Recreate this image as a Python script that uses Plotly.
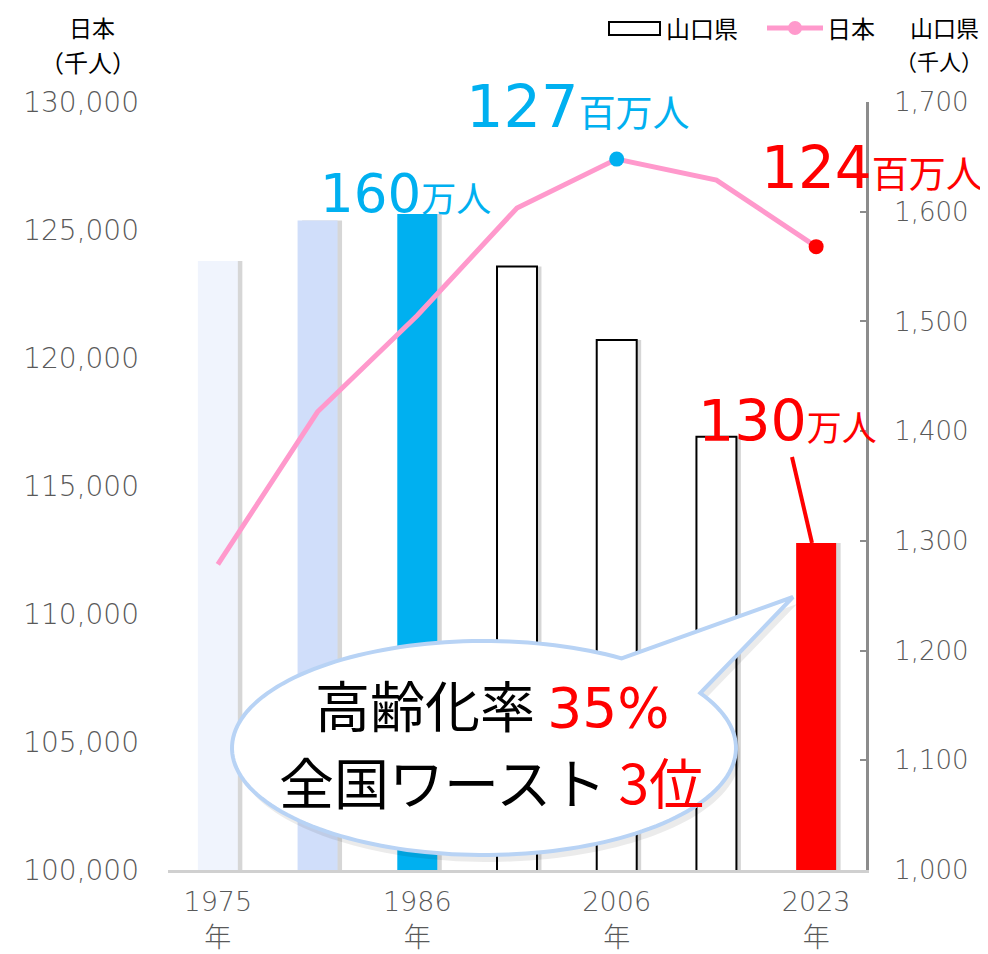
import numpy as np
import plotly.graph_objects as go

# ---------------- data ----------------
years = ["1975", "1981", "1986", "1996", "2006", "2016", "2023"]
year_ticktext = ["1975<br>年", "", "1986<br>年", "", "2006<br>年", "", "2023<br>年"]
yamaguchi = [1555, 1592, 1598, 1550, 1483, 1395, 1298]          # 千人
japan = [111940, 117900, 121660, 125860, 127770, 126950, 124350]  # 千人
left_ticks = [100000, 105000, 110000, 115000, 120000, 125000, 130000]
right_ticks = [1000, 1100, 1200, 1300, 1400, 1500, 1600, 1700]

# ---------------- styles ----------------
bar_colors = ["#F0F4FD", "#D0DEFA", "#00B0F0", "#FFFFFF", "#FFFFFF", "#FFFFFF", "#FF0000"]
bar_line_colors = ["#F0F4FD", "#D0DEFA", "#00B0F0", "#000000", "#000000", "#000000", "#FF0000"]
bar_line_widths = [0, 0, 0, 2, 2, 2, 0]
marker_sizes = [0, 0, 0, 0, 15, 0, 15]
marker_colors = ["#FF99CC", "#FF99CC", "#FF99CC", "#FF99CC", "#00B0F0", "#FF99CC", "#FF0000"]

OFF = 8  # page body margin offset
W, H = 988 - OFF, 954 - OFF
L, R, T, B = 168 - OFF, 866 - OFF, 102 - OFF, 870 - OFF   # plot area in figure pixels
PW, PH = R - L, B - T


def px(x):  # x given in screenshot pixels
    return (x - OFF - L) / PW


def py(y):  # y given in screenshot pixels
    return (B - (y - OFF)) / PH


NUM = "DejaVu Sans, Noto Sans CJK JP"
CJK = "Noto Sans CJK JP, Noto Sans"
GRAY = "#595959"

fig = go.Figure()

BW = 0.401
# bar shadows
fig.add_trace(go.Bar(
    x=years, y=yamaguchi, yaxis="y", width=BW, offset=-BW / 2 + 0.045,
    marker=dict(color="rgba(0,0,0,0.16)", line=dict(width=0)),
    showlegend=False, hoverinfo="skip"))
# bars (山口県)
fig.add_trace(go.Bar(
    x=years, y=yamaguchi, yaxis="y", width=BW, offset=-BW / 2, name="山口県",
    marker=dict(color=bar_colors, line=dict(color=bar_line_colors, width=bar_line_widths)),
    showlegend=False))
# line (日本)
fig.add_trace(go.Scatter(
    x=years, y=japan, yaxis="y2", mode="lines+markers", name="日本",
    line=dict(color="#FF99CC", width=5),
    marker=dict(size=marker_sizes, color=marker_colors, line=dict(width=0), opacity=1),
    showlegend=False))

# ---------------- speech bubble ----------------
cx, cy, rx, ry = 484, 748, 252, 107
tip = (793, 597)
A = (616, 662)
Bp = (685, 697)
tA = np.arctan2((A[1] - cy) / ry, (A[0] - cx) / rx)
tB = np.arctan2((Bp[1] - cy) / ry, (Bp[0] - cx) / rx)
ts = np.linspace(tB, tA + 2 * np.pi, 160)


def bubble_path(dx=0, dy=0):
    pts = [(cx + rx * np.cos(t) + dx, cy + ry * np.sin(t) + dy) for t in ts]
    pts.append((tip[0] + dx, tip[1] + dy))
    s = "M " + " L ".join(f"{px(x):.5f},{py(y):.5f}" for x, y in pts) + " Z"
    return s


shapes = [
    dict(type="path", path=bubble_path(4, 7), xref="paper", yref="paper",
         fillcolor="rgba(0,0,0,0.08)", line=dict(width=0), layer="above"),
    dict(type="path", path=bubble_path(), xref="paper", yref="paper",
         fillcolor="white", line=dict(color="#B8D3F5", width=4), layer="above"),
    # connector for 130万人
    dict(type="line", xref="paper", yref="paper", x0=px(792), y0=py(457), x1=px(812), y1=py(543),
         line=dict(color="#FF0000", width=4), layer="above"),
    # manual legend
    dict(type="rect", xref="paper", yref="paper", x0=px(609), x1=px(660), y0=py(22), y1=py(35),
         line=dict(color="black", width=2), fillcolor="white", layer="above"),
    dict(type="line", xref="paper", yref="paper", x0=px(767), x1=px(823), y0=py(28), y1=py(28),
         line=dict(color="#FF99CC", width=5), layer="above"),
    dict(type="circle", xref="paper", yref="paper", x0=px(788), x1=px(802), y0=py(21), y1=py(35),
         line=dict(width=0), fillcolor="#FF99CC", layer="above"),
]

annotations = [
    dict(x=px(405), y=py(193), text='<span style="font-size:53px">160</span><span style="font-size:35px;font-family:Noto Sans CJK JP">万人</span>',
         font=dict(family=NUM, color="#00B0F0")),
    dict(x=px(578), y=py(107), text='<span style="font-size:59px">127</span><span style="font-size:37px;font-family:Noto Sans CJK JP">百万人</span>',
         font=dict(family=NUM, color="#00B0F0")),
    dict(x=px(872), y=py(168), text='<span style="font-size:58px">124</span><span style="font-size:37px;font-family:Noto Sans CJK JP">百万人</span>',
         font=dict(family=NUM, color="#FF0000")),
    dict(x=px(787), y=py(421), text='<span style="font-size:57px">130</span><span style="font-size:35px;font-family:Noto Sans CJK JP">万人</span>',
         font=dict(family=NUM, color="#FF0000")),
    dict(x=px(492), y=py(703), text='高齢化率 <span style="color:#FF0000;font-family:DejaVu Sans">35%</span>',
         font=dict(family=CJK, size=55, color="black")),
    dict(x=px(491), y=py(780), text='全国ワースト <span style="color:#FF0000">3位</span>',
         font=dict(family=CJK, size=55, color="black")),
    dict(x=px(92), y=py(8), yanchor="top", text="日本", font=dict(family=CJK, size=23, color="black")),
    dict(x=px(88), y=py(42), yanchor="top", text="（千人）", font=dict(family=CJK, size=24, color="black")),
    dict(x=px(944), y=py(8), yanchor="top", text="山口県", font=dict(family=CJK, size=23, color="black")),
    dict(x=px(939), y=py(42), yanchor="top", text="（千人）", font=dict(family=CJK, size=22, color="black")),
    dict(x=px(664), y=py(28), text="山口県", xanchor="left", font=dict(family=CJK, size=24, color="black")),
    dict(x=px(825), y=py(28), text="日本", xanchor="left", font=dict(family=CJK, size=24, color="black")),
]
for a in annotations:
    a.setdefault("xref", "paper")
    a.setdefault("yref", "paper")
    a.setdefault("showarrow", False)
    a.setdefault("xanchor", "center")
    a.setdefault("yanchor", "middle")

fig.update_layout(
    width=W, height=H,
    margin=dict(l=L, r=W - R, t=T, b=H - B, pad=0, autoexpand=False),
    paper_bgcolor="white", plot_bgcolor="white",
    barmode="overlay",
    showlegend=False,
    xaxis=dict(type="category", categoryorder="array", categoryarray=years,
               tickvals=years, ticktext=year_ticktext, showline=True, automargin=False,
               linecolor="#D0D0D0", linewidth=3, ticks="", showgrid=False,
               tickfont=dict(family=NUM, size=27, color=GRAY, weight=200),
               ticklabelstandoff=6, range=[-0.5, 6.5]),
    yaxis=dict(side="right", range=[1000, 1700], tickvals=right_ticks, tickformat=",",
               showline=True, linecolor="#8C8C8C", linewidth=3, ticks="inside", automargin=False,
               ticklen=6, tickwidth=2, tickcolor="#8C8C8C", showgrid=False, zeroline=False,
               tickfont=dict(family=NUM, size=26, color=GRAY, weight=200),
               ticklabelstandoff=20),
    yaxis2=dict(side="left", overlaying="y", range=[100000, 130000], tickvals=left_ticks,
                tickformat=",", showline=False, ticks="", showgrid=False, zeroline=False,
                automargin=False,
                tickfont=dict(family=NUM, size=28, color=GRAY, weight=200),
                ticklabelstandoff=28),
    shapes=shapes,
    annotations=annotations,
)

fig.write_html("out.html")
